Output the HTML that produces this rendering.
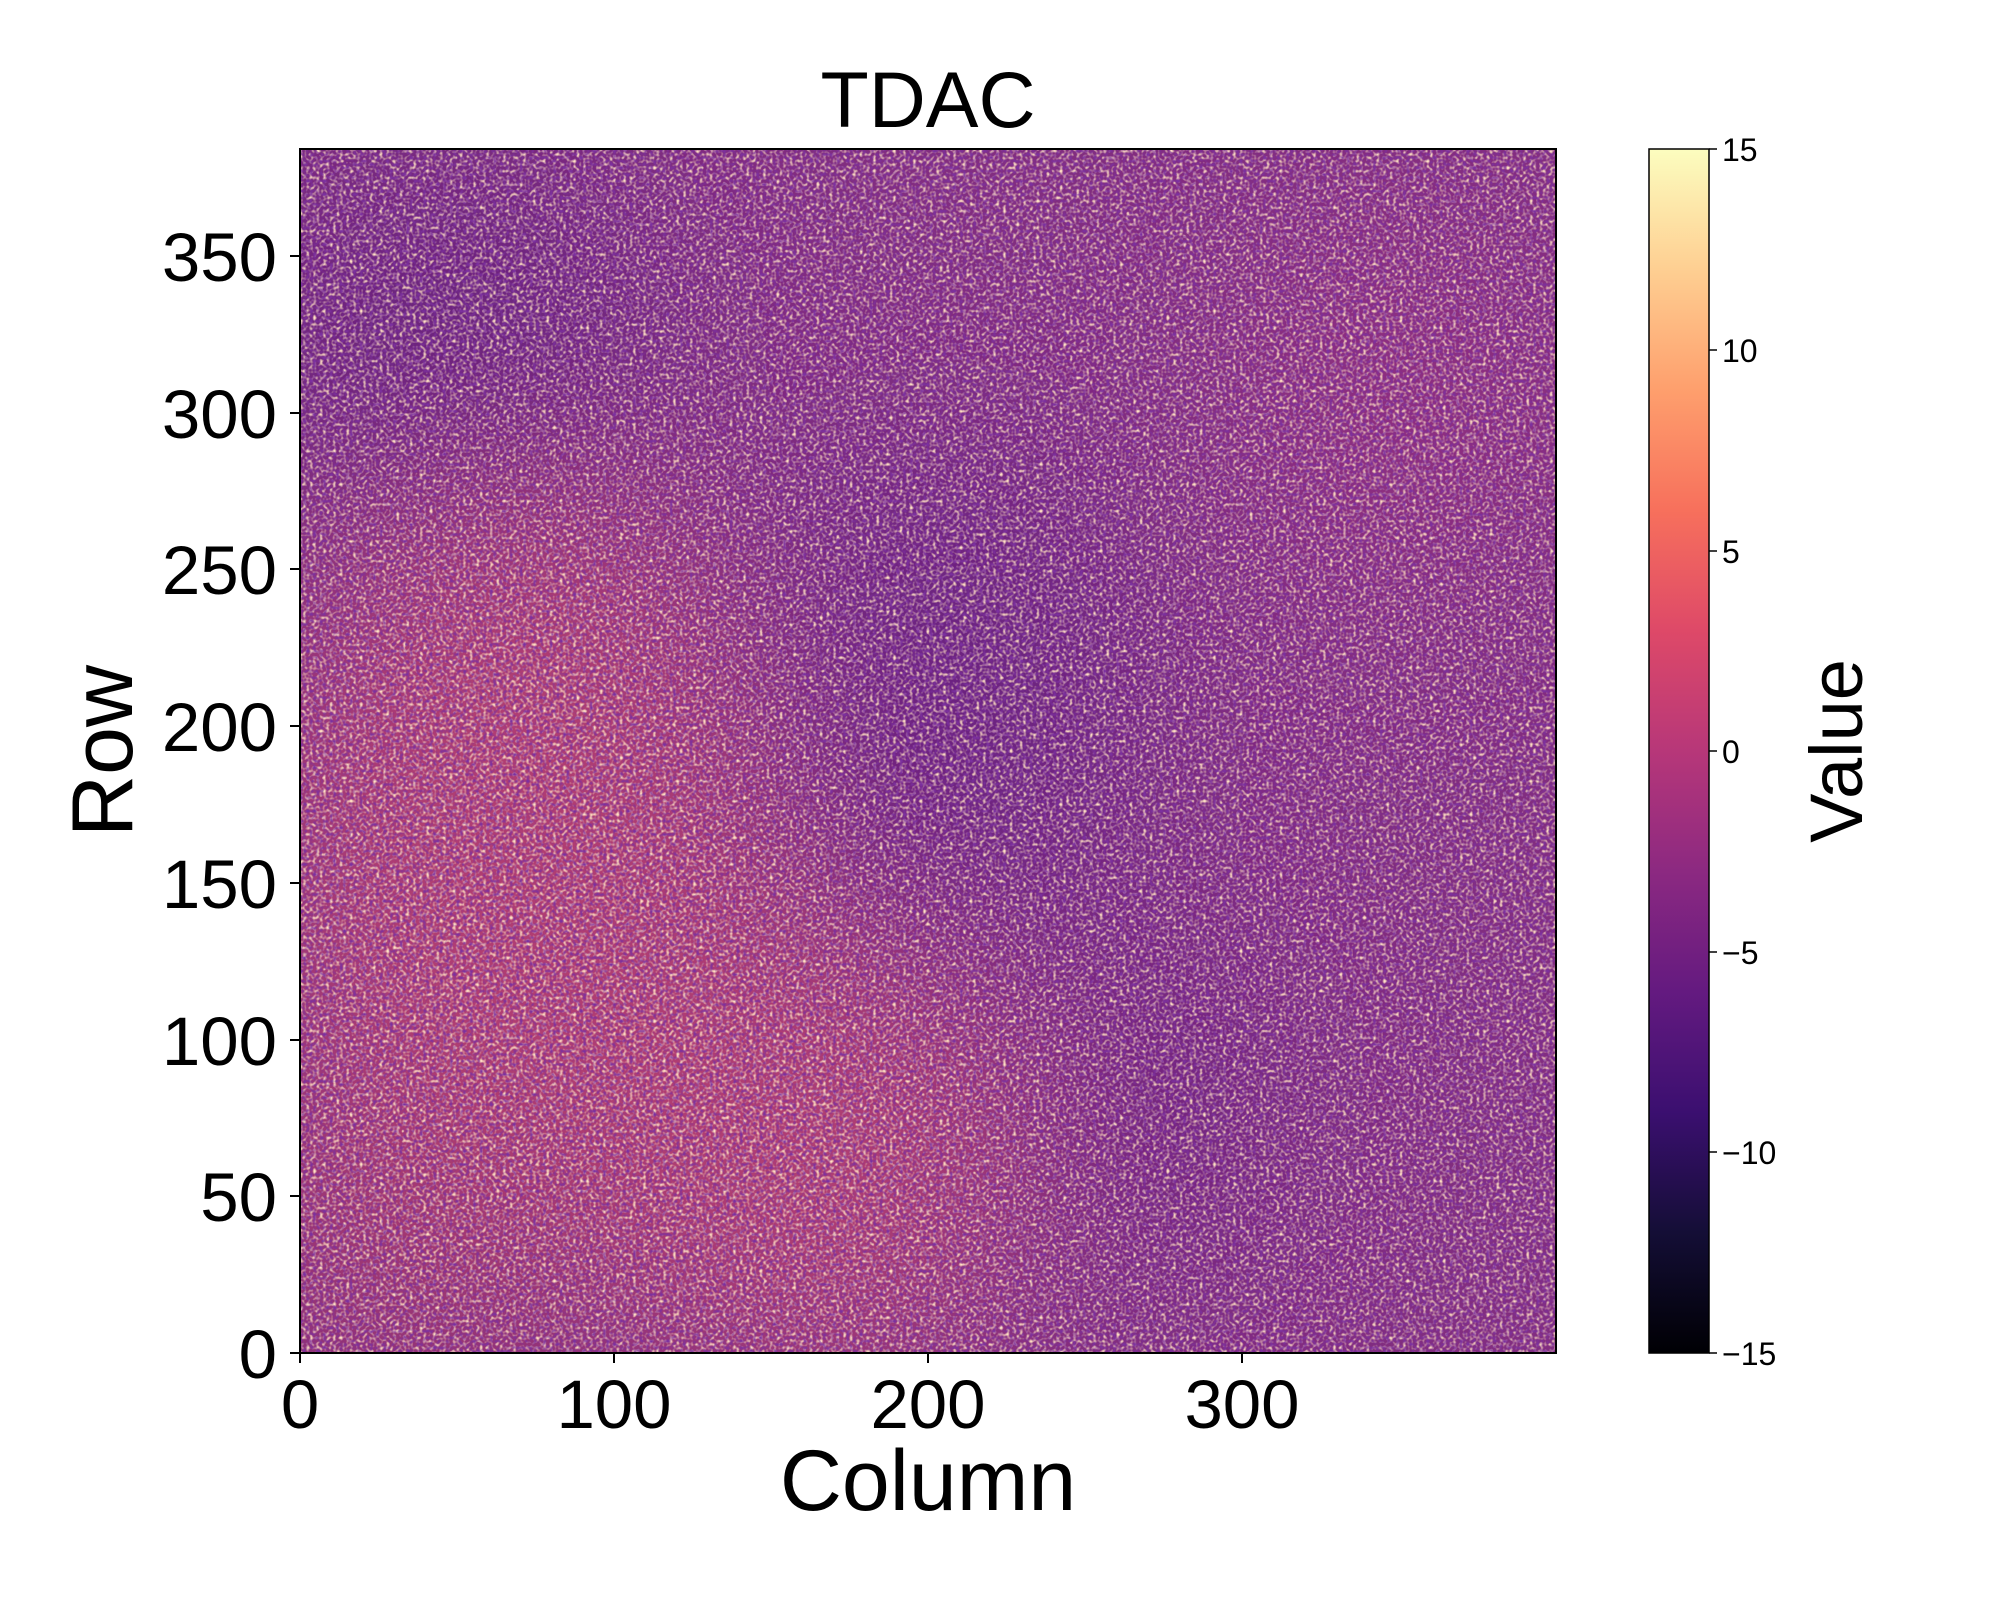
<!DOCTYPE html>
<html><head><meta charset="utf-8"><style>html,body{margin:0;padding:0;background:#fff}</style></head>
<body>
<svg width="2000" height="1600" viewBox="0 0 2000 1600" xmlns="http://www.w3.org/2000/svg" font-family="'Liberation Sans','DejaVu Sans',sans-serif">
<defs>
<clipPath id="pc"><rect x="300" y="149" width="1256" height="1204"/></clipPath>
<filter id="bl" x="-50%" y="-50%" width="200%" height="200%"><feGaussianBlur stdDeviation="90"/></filter>
<filter id="nz" x="0" y="0" width="100%" height="100%">
<feTurbulence type="fractalNoise" baseFrequency="0.3" numOctaves="1" seed="4" result="t"/>
<feColorMatrix in="t" type="matrix" values="0 0 0 0 1  0 0 0 0 0.75  0 0 0 0 0.55  3 0 0 0 -1.35"/>
</filter>
<filter id="nz2" x="0" y="0" width="100%" height="100%">
<feTurbulence type="fractalNoise" baseFrequency="0.3" numOctaves="1" seed="11" result="t"/>
<feColorMatrix in="t" type="matrix" values="0 0 0 0 0.2  0 0 0 0 0.03  0 0 0 0 0.35  3 0 0 0 -1.35"/>
</filter>
<linearGradient id="cb" x1="0" y1="1" x2="0" y2="0">
<stop offset="0" stop-color="#000004"/><stop offset="0.1" stop-color="#140e36"/>
<stop offset="0.2" stop-color="#3b0f70"/><stop offset="0.3" stop-color="#641a80"/>
<stop offset="0.4" stop-color="#8c2981"/><stop offset="0.5" stop-color="#b73779"/>
<stop offset="0.6" stop-color="#de4968"/><stop offset="0.7" stop-color="#f7705c"/>
<stop offset="0.8" stop-color="#fe9f6d"/><stop offset="0.9" stop-color="#fecf92"/>
<stop offset="1" stop-color="#fcfdbf"/></linearGradient>
</defs>
<text x="928" y="127" font-size="79" text-anchor="middle">TDAC</text>
<g clip-path="url(#pc)">
<rect x="300" y="149" width="1256" height="1204" fill="#822d80"/>
<g filter="url(#bl)">
<ellipse cx="520" cy="900" rx="260" ry="420" fill="#b03e72"/>
<ellipse cx="800" cy="1150" rx="220" ry="230" fill="#b03e72"/>
<ellipse cx="420" cy="1250" rx="200" ry="120" fill="#a4386f"/>
<ellipse cx="450" cy="330" rx="220" ry="170" fill="#6a237e"/>
<ellipse cx="950" cy="700" rx="200" ry="260" fill="#6c2280"/>
<ellipse cx="1150" cy="1100" rx="120" ry="180" fill="#70247f"/>
<ellipse cx="1400" cy="400" rx="170" ry="200" fill="#8e2f80"/>
</g>
<rect x="300" y="149" width="1256" height="1204" filter="url(#nz)"/>
<rect x="300" y="149" width="1256" height="1204" filter="url(#nz2)"/>
</g>
<rect x="300" y="149" width="1256" height="1204" fill="none" stroke="#000" stroke-width="2"/>
<g stroke="#000" stroke-width="2">
<line x1="300" y1="1353" x2="300" y2="1363"/><line x1="614" y1="1353" x2="614" y2="1363"/>
<line x1="928" y1="1353" x2="928" y2="1363"/><line x1="1242" y1="1353" x2="1242" y2="1363"/>
<line x1="290" y1="1353" x2="300" y2="1353"/><line x1="290" y1="1196" x2="300" y2="1196"/>
<line x1="290" y1="1040" x2="300" y2="1040"/><line x1="290" y1="883" x2="300" y2="883"/>
<line x1="290" y1="726" x2="300" y2="726"/><line x1="290" y1="569" x2="300" y2="569"/>
<line x1="290" y1="413" x2="300" y2="413"/><line x1="290" y1="256" x2="300" y2="256"/>
</g>
<g font-size="69" text-anchor="middle">
<text x="300" y="1428">0</text><text x="614" y="1428">100</text><text x="928" y="1428">200</text><text x="1242" y="1428">300</text>
</g>
<g font-size="69" text-anchor="end">
<text x="277" y="1378">0</text><text x="277" y="1221">50</text><text x="277" y="1065">100</text><text x="277" y="908">150</text>
<text x="277" y="751">200</text><text x="277" y="594">250</text><text x="277" y="438">300</text><text x="277" y="281">350</text>
</g>
<text x="928" y="1510" font-size="86" text-anchor="middle">Column</text>
<text transform="translate(132,751) rotate(-90)" font-size="86" text-anchor="middle">Row</text>
<rect x="1649" y="149" width="60" height="1204" fill="url(#cb)" stroke="#000" stroke-width="1.5"/>
<g stroke="#000" stroke-width="1.5">
<line x1="1709" y1="149" x2="1717" y2="149"/><line x1="1709" y1="350" x2="1717" y2="350"/>
<line x1="1709" y1="551" x2="1717" y2="551"/><line x1="1709" y1="751" x2="1717" y2="751"/>
<line x1="1709" y1="952" x2="1717" y2="952"/><line x1="1709" y1="1152" x2="1717" y2="1152"/>
<line x1="1709" y1="1353" x2="1717" y2="1353"/>
</g>
<g font-size="32">
<text x="1722" y="161">15</text><text x="1722" y="362">10</text><text x="1722" y="563">5</text>
<text x="1722" y="763">0</text><text x="1722" y="964">−5</text><text x="1722" y="1164">−10</text><text x="1722" y="1365">−15</text>
</g>
<text transform="translate(1862,751) rotate(-90)" font-size="74" text-anchor="middle">Value</text>
</svg>
</body></html>
